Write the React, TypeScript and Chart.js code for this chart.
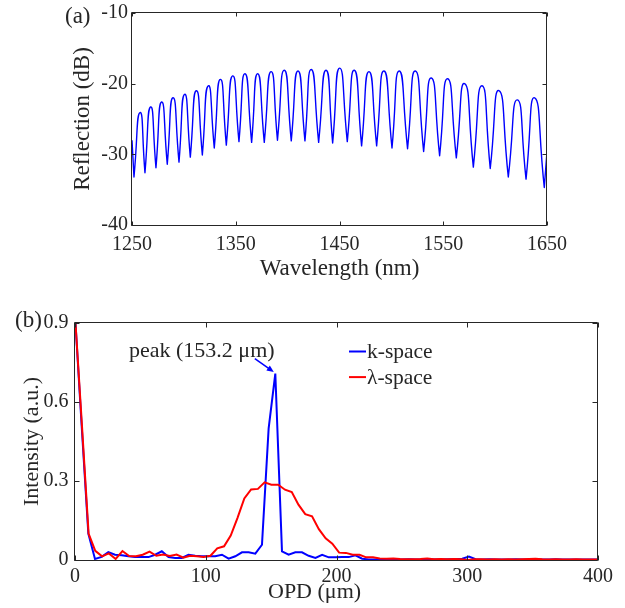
import React, { useEffect, useRef } from 'react';
import { Chart, registerables } from 'chart.js';
Chart.register(...registerables);

const FONT = "'Liberation Serif', 'Times New Roman', Times, serif";
const INK = '#262626';

// ---------- (a) reflection spectrum: fringe extrema ----------
const startWl = 1250;
const startDb = -28.0;
const endWl = 1650;
const endDb = -29.6;
const troughWl = [1251.9, 1262.5, 1273.1, 1284.0, 1295.3, 1306.2, 1317.8, 1329.3, 1340.9, 1353.1, 1365.3, 1377.5, 1390.2, 1403.5, 1416.7, 1429.9, 1443.4, 1457.5, 1471.3, 1485.8, 1500.6, 1515.6, 1531.1, 1546.5, 1562.6, 1579.0, 1595.3, 1612.7, 1629.8, 1647.4];
const troughDb = [-33.2, -32.6, -31.9, -31.4, -31.1, -30.4, -30.1, -29.1, -28.7, -28.2, -28.3, -28.3, -28.0, -28.1, -28.1, -28.3, -28.4, -28.2, -28.8, -28.8, -29.1, -29.2, -29.6, -30.2, -30.5, -31.8, -32.0, -33.2, -33.5, -34.7];
const peakWl = [1257.7, 1267.9, 1278.5, 1289.5, 1300.7, 1312.0, 1323.5, 1335.1, 1347.0, 1358.9, 1371.1, 1384.0, 1396.8, 1410.0, 1422.8, 1437.0, 1450.1, 1464.3, 1478.4, 1492.9, 1507.6, 1523.1, 1538.5, 1554.2, 1570.6, 1587.3, 1603.7, 1621.4, 1638.1];
const peakDb = [-24.1, -23.3, -22.6, -22.0, -21.5, -21.0, -20.3, -19.4, -18.9, -18.6, -18.6, -18.3, -18.1, -18.2, -18.0, -18.1, -17.8, -18.1, -18.3, -18.2, -18.2, -18.2, -19.2, -19.3, -20.0, -20.3, -21.0, -22.3, -22.0];
const wlTicks = [1250, 1350, 1450, 1550, 1650];
const dbTicks = [-40, -30, -20, -10];

// ---------- (b) FFT intensity ----------
const kOpd = [0, 5.1, 10.2, 15.3, 20.4, 25.5, 30.6, 35.7, 40.9, 46.0, 51.1, 56.2, 61.3, 66.4, 71.5, 76.6, 81.7, 86.8, 91.9, 97.0, 102.1, 107.2, 112.4, 117.5, 122.6, 127.7, 132.8, 137.9, 143.0, 148.1, 153.2, 158.3, 163.4, 168.5, 173.6, 178.7, 183.9, 189.0, 194.1, 199.2, 204.3, 209.4, 214.5, 219.6, 224.7, 229.8, 234.9, 240.0, 245.1, 250.2, 255.4, 260.5, 265.6, 270.7, 275.8, 280.9, 286.0, 291.1, 296.2, 301.3, 306.4, 311.5, 316.6, 321.7, 326.8, 331.9, 337.1, 342.2, 347.3, 352.4, 357.5, 362.6, 367.7, 372.8, 377.9, 383.0, 388.1, 393.2, 398.3, 403.4];
const kInt = [0.93, 0.51, 0.10, 0.004, 0.012, 0.030, 0.020, 0.018, 0.014, 0.011, 0.011, 0.011, 0.020, 0.033, 0.011, 0.008, 0.008, 0.020, 0.016, 0.014, 0.014, 0.014, 0.020, 0.005, 0.014, 0.029, 0.029, 0.024, 0.058, 0.50, 0.708, 0.033, 0.020, 0.029, 0.029, 0.016, 0.008, 0.020, 0.010, 0.010, 0.011, 0.011, 0.018, 0.005, 0.002, 0.002, 0.002, 0.003, 0.002, 0.002, 0.003, 0.002, 0.002, 0.003, 0.002, 0.002, 0.003, 0.003, 0.005, 0.013, 0.003, 0.002, 0.003, 0.002, 0.002, 0.002, 0.003, 0.002, 0.002, 0.002, 0.002, 0.002, 0.003, 0.002, 0.002, 0.002, 0.002, 0.002, 0.002, 0.002];
const lamOpd = [0, 5.2, 10.4, 15.5, 20.7, 25.9, 31.1, 36.3, 41.4, 46.6, 51.8, 57.0, 62.2, 67.3, 72.5, 77.7, 82.9, 88.1, 93.2, 98.4, 103.6, 108.8, 114.0, 119.1, 124.3, 129.5, 134.7, 139.9, 145.0, 150.2, 155.4, 160.6, 165.8, 170.9, 176.1, 181.3, 186.5, 191.7, 196.8, 202.0, 207.2, 212.4, 217.6, 222.7, 227.9, 233.1, 238.3, 243.5, 248.6, 253.8, 259.0, 264.2, 269.4, 274.5, 279.7, 284.9, 290.1, 295.3, 300.4, 305.6, 310.8, 316.0, 321.2, 326.3, 331.5, 336.7, 341.9, 347.1, 352.2, 357.4, 362.6, 367.8, 373.0, 378.1, 383.3, 388.5, 393.7, 398.9, 404.0];
const lamInt = [0.93, 0.52, 0.10, 0.035, 0.014, 0.025, 0.004, 0.034, 0.015, 0.014, 0.020, 0.032, 0.016, 0.021, 0.015, 0.021, 0.009, 0.016, 0.014, 0.011, 0.016, 0.044, 0.052, 0.093, 0.160, 0.234, 0.268, 0.270, 0.295, 0.286, 0.286, 0.267, 0.258, 0.210, 0.174, 0.166, 0.117, 0.082, 0.062, 0.028, 0.027, 0.020, 0.020, 0.010, 0.010, 0.006, 0.005, 0.006, 0.004, 0.003, 0.003, 0.004, 0.006, 0.003, 0.004, 0.003, 0.004, 0.003, 0.000, 0.003, 0.003, 0.002, 0.003, 0.002, 0.003, 0.002, 0.003, 0.004, 0.005, 0.003, 0.002, 0.003, 0.002, 0.002, 0.003, 0.002, 0.002, 0.002, 0.002];
const opdTicks = [0, 100, 200, 300, 400];
const intTicks = [0, 0.3, 0.6, 0.9];
const peakOpd = 153.2;
const peakInt = 0.708;
const seriesNames = ['k-space', 'λ-space'];
const seriesColors = ['#0000ff', '#ff0000'];

function fringePoints() {
  const pts: { x: number; y: number }[] = [{ x: startWl, y: startDb }];
  for (let i = 0; i < troughWl.length; i++) {
    // trough listed twice so the spline meets it as a sharp notch
    pts.push({ x: troughWl[i], y: troughDb[i] }, { x: troughWl[i], y: troughDb[i] });
    if (i < peakWl.length) pts.push({ x: peakWl[i], y: peakDb[i] });
  }
  pts.push({ x: endWl, y: endDb });
  return pts;
}

const zip = (xs: number[], ys: number[]) => xs.map((x, i) => ({ x, y: ys[i] }));

function boxPlugin(tickLen: number) {
  return {
    id: 'box',
    afterDatasetsDraw(chart: any) {
      const { ctx, chartArea: a, scales } = chart;
      const xs = scales.x;
      const ys = scales.y;
      const L = Math.round(a.left) - 0.5;
      const R = Math.round(a.right) - 0.5;
      const T = Math.round(a.top) - 0.5;
      const B = Math.round(a.bottom) + 0.5;
      ctx.save();
      ctx.strokeStyle = INK;
      ctx.lineWidth = 1;
      ctx.beginPath();
      ctx.rect(L, T, R - L, B - T);
      for (const t of xs.ticks) {
        const p = Math.round(xs.getPixelForValue(t.value)) + 0.5;
        ctx.moveTo(p, B);
        ctx.lineTo(p, B - tickLen);
        ctx.moveTo(p, T);
        ctx.lineTo(p, T + tickLen);
      }
      for (const t of ys.ticks) {
        const p = Math.round(ys.getPixelForValue(t.value)) + 0.5;
        ctx.moveTo(L, p);
        ctx.lineTo(L + tickLen, p);
        ctx.moveTo(R, p);
        ctx.lineTo(R - tickLen, p);
      }
      ctx.stroke();
      ctx.restore();
    },
  };
}

const textA = {
  id: 'textA',
  afterDraw(chart: any) {
    const { ctx } = chart;
    ctx.save();
    ctx.fillStyle = INK;
    ctx.font = `23px ${FONT}`;
    ctx.textAlign = 'left';
    ctx.textBaseline = 'middle';
    ctx.fillText('(a)', 65, 17);
    ctx.restore();
  },
};

const textB = {
  id: 'textB',
  afterDraw(chart: any) {
    const { ctx, scales } = chart;
    ctx.save();
    ctx.fillStyle = INK;
    ctx.font = `23px ${FONT}`;
    ctx.textAlign = 'left';
    ctx.textBaseline = 'middle';
    ctx.fillText('(b)', 15, 21);

    // x-axis title
    ctx.font = `22px ${FONT}`;
    ctx.textBaseline = 'alphabetic';
    ctx.fillText('OPD (μm)', 268, 298);

    // peak annotation
    ctx.font = `22px ${FONT}`;
    ctx.fillText('peak (153.2 μm)', 129, 57);
    const ex = scales.x.getPixelForValue(peakOpd) - 1.5;
    const ey = scales.y.getPixelForValue(peakInt) - 1.5;
    const sx = ex - 19;
    const sy = ey - 13.5;
    const ang = Math.atan2(ey - sy, ex - sx);
    ctx.strokeStyle = seriesColors[0];
    ctx.fillStyle = seriesColors[0];
    ctx.lineWidth = 1.5;
    ctx.beginPath();
    ctx.moveTo(sx, sy);
    ctx.lineTo(ex - 5 * Math.cos(ang), ey - 5 * Math.sin(ang));
    ctx.stroke();
    ctx.beginPath();
    ctx.moveTo(ex, ey);
    ctx.lineTo(ex - 7 * Math.cos(ang) + 3 * Math.sin(ang), ey - 7 * Math.sin(ang) - 3 * Math.cos(ang));
    ctx.lineTo(ex - 7 * Math.cos(ang) - 3 * Math.sin(ang), ey - 7 * Math.sin(ang) + 3 * Math.cos(ang));
    ctx.closePath();
    ctx.fill();

    // legend
    ctx.font = `21.5px ${FONT}`;
    ctx.textBaseline = 'alphabetic';
    seriesNames.forEach((name, i) => {
      const ly = 51.5 + i * 25.6;
      ctx.strokeStyle = seriesColors[i];
      ctx.lineWidth = 2;
      ctx.beginPath();
      ctx.moveTo(349, ly);
      ctx.lineTo(366, ly);
      ctx.stroke();
      ctx.fillStyle = INK;
      ctx.fillText(name, 367, ly + 6.5);
    });
    ctx.restore();
  },
};

export default function App() {
  const refA = useRef<HTMLCanvasElement>(null);
  const refB = useRef<HTMLCanvasElement>(null);

  useEffect(() => {
    const tickFont = { family: FONT, size: 20 };
    const chartA = new Chart(refA.current as HTMLCanvasElement, {
      type: 'line',
      data: {
        datasets: [
          {
            data: fringePoints(),
            borderColor: '#0000ff',
            borderWidth: 1.4,
            pointRadius: 0,
            tension: 0.65,
            cubicInterpolationMode: 'default',
            borderJoinStyle: 'round',
            fill: false,
          },
        ],
      },
      options: {
        animation: false,
        responsive: false,
        devicePixelRatio: 1,
        layout: { padding: { left: 0, right: 78, top: 13, bottom: 0 } },
        plugins: { legend: { display: false }, tooltip: { enabled: false } },
        scales: {
          x: {
            type: 'linear',
            min: 1250,
            max: 1650,
            afterBuildTicks: (s: any) => { s.ticks = wlTicks.map((v) => ({ value: v })); },
            afterFit: (s: any) => { s.height = 75; s.paddingLeft = 0; s.paddingRight = 0; },
            grid: { display: false, drawTicks: false },
            border: { display: false },
            ticks: { color: INK, font: tickFont, padding: 8, maxRotation: 0, minRotation: 0, autoSkip: false, callback: (v: any) => String(v) },
            title: { display: true, text: 'Wavelength (nm)', color: INK, font: { family: FONT, size: 23 }, padding: { top: 0, bottom: 17 } },
          },
          y: {
            type: 'linear',
            min: -40,
            max: -10,
            afterBuildTicks: (s: any) => { s.ticks = dbTicks.map((v) => ({ value: v })); },
            afterFit: (s: any) => { s.width = 132; s.paddingTop = 0; s.paddingBottom = 0; },
            grid: { display: false, drawTicks: false },
            border: { display: false },
            ticks: { color: INK, font: tickFont, padding: 4, autoSkip: false, callback: (v: any) => String(v) },
            title: { display: true, text: 'Reflection (dB)', color: INK, font: { family: FONT, size: 23 }, padding: { top: 69, bottom: 0 } },
          },
        },
      },
      plugins: [boxPlugin(4), textA],
    } as any);

    const chartB = new Chart(refB.current as HTMLCanvasElement, {
      type: 'line',
      data: {
        datasets: [
          {
            label: seriesNames[0],
            data: zip(kOpd, kInt),
            borderColor: seriesColors[0],
            borderWidth: 2,
            pointRadius: 0,
            tension: 0,
            fill: false,
            order: 1,
          },
          {
            label: seriesNames[1],
            data: zip(lamOpd, lamInt),
            borderColor: seriesColors[1],
            borderWidth: 2,
            pointRadius: 0,
            tension: 0,
            fill: false,
            order: 0,
          },
        ],
      },
      options: {
        animation: false,
        responsive: false,
        devicePixelRatio: 1,
        layout: { padding: { left: 0, right: 27, top: 23, bottom: 0 } },
        plugins: { legend: { display: false }, tooltip: { enabled: false } },
        scales: {
          x: {
            type: 'linear',
            min: 0,
            max: 400,
            afterBuildTicks: (s: any) => { s.ticks = opdTicks.map((v) => ({ value: v })); },
            afterFit: (s: any) => { s.height = 48; s.paddingLeft = 0; s.paddingRight = 0; },
            grid: { display: false, drawTicks: false },
            border: { display: false },
            ticks: { color: INK, font: tickFont, padding: 5, maxRotation: 0, minRotation: 0, autoSkip: false, callback: (v: any) => String(v) },
          },
          y: {
            type: 'linear',
            min: 0,
            max: 0.9,
            afterBuildTicks: (s: any) => { s.ticks = intTicks.map((v) => ({ value: v })); },
            afterFit: (s: any) => { s.width = 75; s.paddingTop = 0; s.paddingBottom = 0; },
            grid: { display: false, drawTicks: false },
            border: { display: false },
            ticks: { color: INK, font: tickFont, padding: 6.5, autoSkip: false, callback: (v: any) => (Number(v) === 0 ? '0' : Number(v).toFixed(1)) },
            title: { display: true, text: 'Intensity (a.u.)', color: INK, font: { family: FONT, size: 22 }, padding: { top: 19, bottom: 0 } },
          },
        },
      },
      plugins: [boxPlugin(5), textB],
    } as any);

    return () => {
      chartA.destroy();
      chartB.destroy();
    };
  }, []);

  return (
    <div style={{ position: 'fixed', left: 0, top: 0, width: 625, height: 608, background: '#fff' }}>
      <canvas ref={refA} width={625} height={300} style={{ position: 'absolute', left: 0, top: 0, width: 625, height: 300 }} />
      <canvas ref={refB} width={625} height={308} style={{ position: 'absolute', left: 0, top: 300, width: 625, height: 308 }} />
    </div>
  );
}
